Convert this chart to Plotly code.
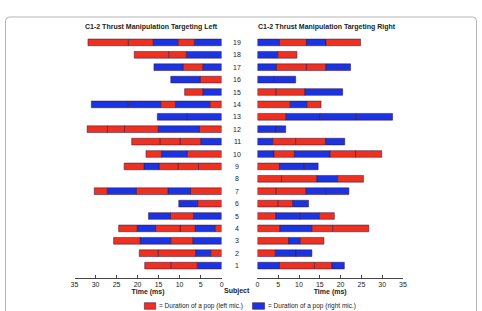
import plotly.graph_objects as go

# ---------------- data ----------------
subjects = list(range(1, 20))
x_ticks = [0, 5, 10, 15, 20, 25, 30, 35]

# durations (ms) of successive pops, from time 0 outward; mic: R = left mic (red), B = right mic (blue)
left_durations = [
    [5.8, 6.3, 6.2],                 # 1
    [2.6, 3.6, 8.9, 4.5],            # 2
    [6.9, 5.2, 7.3, 6.3],            # 3
    [1.6, 4.7, 3.6, 5.8, 4.4, 4.4],  # 4
    [6.7, 5.5, 5.2],                 # 5
    [5.7, 4.5],                      # 6
    [7.4, 5.4, 7.5, 6.9, 3.1],       # 7
    [],                              # 8
    [5.5, 4.9, 4.5, 3.6, 4.7],       # 9
    [8.2, 6.1, 3.7],                 # 10
    [5.0, 4.9, 4.8, 6.7],            # 11
    [5.3, 9.8, 8.0, 4.1, 4.8],       # 12
    [8.2, 7.1],                      # 13
    [2.8, 8.2, 3.5, 7.7, 8.8],       # 14
    [4.5, 4.3],                      # 15
    [5.1, 7.0],                      # 16
    [4.5, 4.7, 6.9],                 # 17
    [8.4, 4.2, 8.2],                 # 18
    [6.5, 3.9, 5.9, 5.9, 9.6],       # 19
]
left_mics = ["BRR", "RBRR", "BRBR", "RBRRBR", "BRB", "RB", "RBRBR", "",
             "RRRBR", "RBR", "BRRR", "RBRRR", "BB", "RBRBB", "BR", "RB",
             "BRB", "BRR", "BRBRR"]

right_durations = [
    [5.3, 8.4, 4.2, 3.0],            # 1
    [4.3, 5.0, 3.8],                 # 2
    [7.5, 2.8, 5.7],                 # 3
    [5.4, 7.7, 5.0, 8.7],            # 4
    [4.4, 5.9, 4.6, 3.6],            # 5
    [5.0, 3.5, 3.8],                 # 6
    [4.5, 7.2, 4.7, 5.6],            # 7
    [5.8, 8.5, 5.0, 6.2],            # 8
    [5.3, 6.0, 3.3],                 # 9
    [4.0, 4.9, 8.6, 6.1, 6.3],       # 10
    [3.7, 5.5, 7.2, 4.6],            # 11
    [4.5, 2.3],                      # 12
    [6.9, 8.2, 8.7, 8.7],            # 13
    [7.9, 4.0, 3.4],                 # 14
    [4.5, 6.9, 9.1],                 # 15
    [3.9, 5.3],                      # 16
    [4.6, 7.2, 4.7, 5.9],            # 17
    [4.9, 4.6],                      # 18
    [5.3, 6.5, 4.7, 8.3],            # 19
]
right_mics = ["BRRB", "RBB", "RBR", "RBRR", "RBBR", "RRB", "RRBB", "RRBR",
              "RBB", "BRBRR", "BRRB", "BB", "RBBB", "RBR", "RRB", "BB",
              "BRRB", "BR", "BRBR"]

panel_titles = ["C1-2 Thrust Manipulation Targeting Left",
                "C1-2 Thrust Manipulation Targeting Right"]
legend_labels = ["= Duration of a pop (left mic.)", "= Duration of a pop (right mic.)"]

# ---------------- style ----------------
RED = "#EE3020"
BLUE = "#1B33E0"
EDGE = "rgba(50,20,60,0.85)"
FONT = "Liberation Sans, Arial, sans-serif"
TXT = "#222222"
W, H = 482, 311
PLOT_TOP, PLOT_BOT = 30, 278


def px_y(p):
    return (PLOT_BOT - p) / (PLOT_BOT - PLOT_TOP)


def px_x(p):
    return p / W


fig = go.Figure()


def add_panel(durs, mics, xaxis):
    maxk = max(len(d) for d in durs)
    for k in range(maxk):
        ys, xs, bases, cols = [], [], [], []
        for s, d, m in zip(subjects, durs, mics):
            if len(d) > k:
                ys.append(s)
                xs.append(d[k])
                bases.append(sum(d[:k]))
                cols.append(RED if m[k] == "R" else BLUE)
        fig.add_trace(go.Bar(
            orientation="h", y=ys, x=xs, base=bases, width=0.54,
            marker=dict(color=cols, line=dict(color=EDGE, width=0.6)),
            xaxis=xaxis, yaxis="y", showlegend=False, hoverinfo="skip"))


add_panel(left_durations, left_mics, "x")
add_panel(right_durations, right_mics, "x2")

axis_common = dict(
    tickvals=x_ticks, ticks="inside", ticklen=3, tickcolor="#444",
    showline=True, linecolor="#444", linewidth=1, showgrid=False,
    zeroline=False, tickfont=dict(size=7, color=TXT, family=FONT),
    anchor="y", fixedrange=True,
)

fig.update_layout(
    width=W, height=H, barmode="overlay",
    margin=dict(l=0, r=0, t=PLOT_TOP, b=H - PLOT_BOT),
    paper_bgcolor="white", plot_bgcolor="white",
    font=dict(family=FONT, color=TXT),
    xaxis=dict(domain=[71.7 / W, 221.3 / W], range=[35, 0],
               title=dict(text="<b>Time (ms)</b>", standoff=1,
                          font=dict(size=7, color=TXT, family=FONT)),
               **axis_common),
    xaxis2=dict(domain=[257.7 / W, 405.7 / W], range=[0, 35],
                title=dict(text="<b>Time (ms)</b>", standoff=1,
                           font=dict(size=7, color=TXT, family=FONT)),
                **axis_common),
    yaxis=dict(range=[0, 20], visible=False, domain=[0, 1], fixedrange=True),
    showlegend=False,
)

ann = []
# panel titles
for t, xc in zip(panel_titles, [150 / W, 328 / W]):
    ann.append(dict(text=f"<b>{t}</b>", x=xc, y=px_y(27), xref="paper", yref="paper",
                    showarrow=False, xanchor="center", yanchor="middle",
                    font=dict(size=7, color=TXT, family=FONT)))
# subject numbers
for s in subjects:
    ann.append(dict(text=str(s), x=237 / W, y=s, xref="paper", yref="y",
                    showarrow=False, xanchor="center", yanchor="middle",
                    font=dict(size=7, color=TXT, family=FONT)))
ann.append(dict(text="<b>Subject</b>", x=237 / W, y=px_y(290.5), xref="paper", yref="paper",
                showarrow=False, xanchor="center", yanchor="middle",
                font=dict(size=7, color=TXT, family=FONT)))

# frame (rounded top border of the original figure panel)
fx0, fx1, fy, r, fyb = 1.5, 480.5, 17.0, 4.0, 330.0
frame_path = (f"M {px_x(fx0)},{px_y(fyb)} L {px_x(fx0)},{px_y(fy + r)} "
              f"Q {px_x(fx0)},{px_y(fy)} {px_x(fx0 + r)},{px_y(fy)} "
              f"L {px_x(fx1 - r)},{px_y(fy)} "
              f"Q {px_x(fx1)},{px_y(fy)} {px_x(fx1)},{px_y(fy + r)} "
              f"L {px_x(fx1)},{px_y(fyb)}")
shapes = [dict(type="path", xref="paper", yref="paper", path=frame_path,
               line=dict(color="#b4b4b4", width=1))]
# legend
for lab, col, bx0, bx1 in zip(legend_labels, [RED, BLUE], [142.7, 252.7], [154.3, 265.0]):
    shapes.append(dict(type="rect", xref="paper", yref="paper",
                       x0=bx0 / W, x1=bx1 / W, y0=px_y(309.3), y1=px_y(302.7),
                       fillcolor=col, line=dict(color=EDGE, width=0.6)))
    ann.append(dict(text=lab, x=(bx1 + 1.2) / W, y=px_y(306), xref="paper", yref="paper",
                    showarrow=False, xanchor="left", yanchor="middle",
                    font=dict(size=6.5, color=TXT, family=FONT)))

fig.update_layout(annotations=ann, shapes=shapes)
fig.write_html("out.html")
